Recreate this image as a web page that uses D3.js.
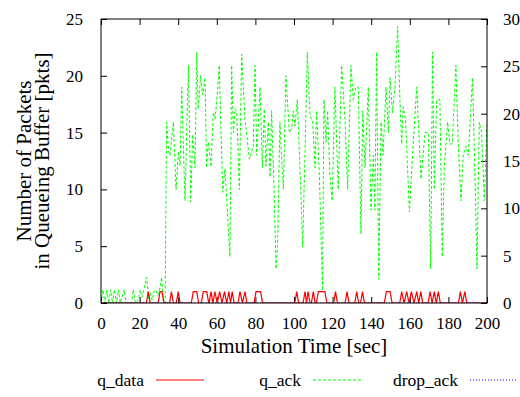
<!DOCTYPE html>
<html>
<head>
<meta charset="utf-8">
<script src="https://cdn.jsdelivr.net/npm/d3@7"></script>
<style>
    body { margin: 0; background: #fff; }
    text { font-family: "Liberation Serif", "Times New Roman", serif; fill: #000; }
</style>
</head>
<body>
<svg id="svg"></svg>
<script>
//data
let xTicks = [0, 20, 40, 60, 80, 100, 120, 140, 160, 180, 200]
let yTicks = [0, 5, 10, 15, 20, 25]
let y2Ticks = [0, 5, 10, 15, 20, 25, 30]

//q_data (left axis)
let qDataTime = [0, 23.5, 24.5, 25.5, 29.6, 30.6, 31.6, 32.6, 35.5, 36.5, 37.5, 39, 40, 41,
    46.8, 47.8, 49.6, 50.6, 52, 53, 54.8, 55.8, 56, 57, 58, 59, 60.2, 61.5, 62.7, 64, 65.1,
    66.3, 67.1, 68, 69, 71, 72, 73.3, 74.6, 75.6, 79.3, 80.3, 82.7, 83.7, 100.4, 101.4, 102.4,
    104.7, 105.7, 106.5, 107.3, 108.3, 109, 110, 111, 111.6, 112.6, 116, 117, 120.5, 121.5, 122.5,
    126.5, 127.5, 128.5, 131.5, 132.5, 133.5, 134.5, 135.5, 136.5, 146.8, 147.8, 149.8, 150.8,
    154.8, 155.8, 157, 158.4, 159.6, 160.8, 162.2, 163.6, 164.6, 165.7, 166.7, 169.5, 170.5,
    171.6, 172.7, 173.7, 174.8, 175.8, 185.2, 186.2, 187.3, 188.5, 189.5, 200]
let qDataVal = [0, 0, 1, 0, 0, 1, 1, 0, 0, 1, 0, 0, 1, 0,
    0, 1, 1, 0, 0, 1, 1, 0, 0, 1, 0, 1, 0, 1, 0, 1, 0,
    1, 0, 1, 0, 0, 1, 0, 1, 0, 0, 1, 1, 0, 0, 1, 0,
    0, 1, 0, 1, 0, 0, 1, 0, 0, 1, 1, 0, 0, 1, 0,
    0, 1, 0, 0, 1, 0, 0, 1, 0, 0, 1, 1, 0,
    0, 1, 0, 1, 0, 1, 0, 1, 0, 1, 0, 0, 1,
    0, 1, 0, 1, 0, 0, 1, 0, 1, 0, 0]

//q_ack (right axis)
let qAckTime = [0, 1, 2, 3, 4, 5, 6, 7, 8, 9, 10, 12, 13, 15.8, 16.8, 17.8, 19.5, 20.3, 21.2, 22,
    23.7, 24.7, 25.5, 26.5, 27.5, 28.5, 29.5, 30.5, 31.4, 32.4, 33.2, 34, 35, 35.8, 36.7, 37.5,
    38.9, 40.1, 41, 41.8, 43.5, 45.3, 46.5, 47.5, 48.7, 49.6, 50.4, 51.6, 52.7, 53.9, 54.7, 55.6,
    57, 58.2, 59.1, 60, 61.3, 62, 63.1, 64.2, 65.5, 66.8, 67.7, 68.6, 69.5, 70.3, 71.7, 72.9,
    74.6, 76.9, 78.9, 79.8, 80.7, 82.4, 83.6, 84.6, 85.5, 86.7, 87.6, 88.4, 89.6, 90.7, 91.5,
    92.7, 93.6, 94.5, 95.8, 97.6, 98.8, 99.6, 100.5, 101.7, 103.1, 104.5, 105.7, 106.9, 108.3,
    109.7, 110.9, 111.7, 113.1, 114.8, 115.5, 116.6, 117.4, 118.6, 119.8, 121.2, 122.9, 124.7,
    126.4, 127.8, 129.5, 130.7, 132.1, 133.3, 134.7, 135.6, 136.8, 138.5, 139.9, 141.1, 141.9,
    142.8, 143.9, 145.1, 146.1, 147.7, 148.9, 149.8, 151, 152.3, 153.7, 154.9, 155.8, 156.6,
    157.8, 159.8, 161.8, 163.6, 165.8, 167.9, 169.6, 170.8, 171.8, 172.7, 173.9, 175.6, 176.8,
    177.9, 179.6, 180.8, 182, 183.9, 185.1, 186.5, 187.7, 189.1, 190.3, 192.5, 193.8, 194.8,
    196, 197.2, 198.6, 200]
let qAckVal = [0, 1.4, 0, 1.4, 0, 1.4, 0, 1.4, 0, 1.4, 0, 1.4, 0, 0, 1.4, 0, 0.4, 1.4, 0.6, 1.3,
    2.7, 0.4, 1.1, 0.3, 1.2, 1.4, 0.8, 1.5, 2.7, 0, 0, 19.1, 16.0, 15.6, 17.5, 19.1,
    12.0, 16.0, 14.5, 22.8, 10.8, 25.1, 10.7, 17.8, 14.3, 26.5, 20.5, 24.0, 22.0, 23.8, 14.3, 17.0,
    14.4, 20.1, 19.4, 21.5, 25.1, 19.4, 11.7, 14.2, 9.6, 4.9, 25.1, 18.0, 20.5, 20.3, 12.0, 26.3,
    19.4, 15.2, 16.5, 25.1, 15.6, 22.8, 14.3, 20.5, 14.5, 19.1, 13.3, 20.3, 12.4, 3.6, 6.1,
    19.1, 15.2, 12.0, 24.0, 18.0, 18.4, 20.3, 18.7, 21.5, 14.2, 5.9, 15.9, 26.5, 19.8,
    19.1, 14.3, 20.3, 13.8, 1.3, 21.5, 17.0, 20.3, 13.5, 10.8, 22.8, 12.0, 25.1,
    19.4, 12.0, 25.1, 21.5, 22.8, 22.8, 7.3, 20.3, 14.3, 22.8, 9.8, 15.6, 9.8,
    26.5, 2.5, 19.1, 15.6, 22.8, 18.0, 23.8, 20.1, 22.8, 29.2, 21.4, 16.8, 20.7,
    19.3, 9.6, 17.0, 22.8, 13.1, 18.0, 18.0, 3.6, 26.5, 12.0, 21.4, 21.5, 4.9,
    14.5, 19.1, 16.8, 16.8, 25.1, 16.8, 10.8, 15.6, 16.6, 15.6, 23.8, 13.1, 3.6,
    19.1, 18.0, 10.8, 19.1]

//drop_ack (left axis)
let dropAckTime = [0, 200]
let dropAckVal = [0, 0]

let legendNames = ['q_data', 'q_ack', 'drop_ack']

/*---------------------------------------------------------------------*/
let svg = d3.select('#svg').attr('width', 520).attr('height', 397)
let plotLeft = 101, plotRight = 487, plotTop = 19, plotBottom = 303

let x = d3.scaleLinear().domain([0, 200]).range([plotLeft, plotRight])
let y = d3.scaleLinear().domain([0, 25]).range([plotBottom, plotTop])
let y2 = d3.scaleLinear().domain([0, 30]).range([plotBottom, plotTop])

//clip for the lines
svg.append('clipPath').attr('id', 'plotClip')
    .append('rect')
    .attr('x', plotLeft).attr('y', plotTop)
    .attr('width', plotRight - plotLeft).attr('height', plotBottom - plotTop)

//axes: gnuplot style, ticks pointing inwards, mirrored on top
let xAxis = svg.append('g')
    .attr('transform', `translate(0,${plotBottom})`)
    .call(d3.axisBottom(x).tickValues(xTicks).tickSizeInner(-6).tickSizeOuter(0).tickPadding(14))
let xTop = svg.append('g')
    .attr('transform', `translate(0,${plotTop})`)
    .call(d3.axisTop(x).tickValues(xTicks).tickSizeInner(-6).tickSizeOuter(0).tickFormat(''))
let yAxis = svg.append('g')
    .attr('transform', `translate(${plotLeft},0)`)
    .call(d3.axisLeft(y).tickValues(yTicks).tickSizeInner(-6).tickSizeOuter(0).tickPadding(18))
let y2Axis = svg.append('g')
    .attr('transform', `translate(${plotRight},0)`)
    .call(d3.axisRight(y2).tickValues(y2Ticks).tickSizeInner(-6).tickSizeOuter(0).tickPadding(16))

svg.selectAll('.domain').remove()
svg.selectAll('.tick line').attr('stroke', '#000')
svg.selectAll('.tick text')
    .style('font-family', '"Liberation Serif", serif')
    .style('font-size', '17px')
    .attr('fill', '#000')

//series lines
let makeLine = (ts, vs, scale) => d3.line()
    .x((d, i) => x(ts[i]))
    .y(d => scale(d))(vs)

let plot = svg.append('g').attr('clip-path', 'url(#plotClip)')

plot.append('path')
    .attr('d', makeLine(qAckTime, qAckVal, y2))
    .attr('fill', 'none')
    .attr('stroke', '#00ff00')
    .attr('stroke-width', 1)
    .attr('stroke-dasharray', '3,2')

plot.append('path')
    .attr('d', makeLine(qDataTime, qDataVal, y))
    .attr('fill', 'none')
    .attr('stroke', '#ff0000')
    .attr('stroke-width', 1.2)

plot.append('path')
    .attr('d', makeLine(dropAckTime, dropAckVal, y))
    .attr('fill', 'none')
    .attr('stroke', '#0000ff')
    .attr('stroke-width', 1.2)
    .attr('stroke-dasharray', '1,2')

//border
svg.append('rect')
    .attr('x', plotLeft).attr('y', plotTop)
    .attr('width', plotRight - plotLeft).attr('height', plotBottom - plotTop)
    .attr('fill', 'none')
    .attr('stroke', '#000')
    .attr('stroke-width', 1)

//axis captions
svg.append('text')
    .attr('x', (plotLeft + plotRight) / 2)
    .attr('y', 353)
    .attr('text-anchor', 'middle')
    .style('font-size', '21px')
    .text('Simulation Time [sec]')

let yTitle = svg.append('g')
    .attr('transform', `translate(0,${(plotTop + plotBottom) / 2}) rotate(-90)`)
yTitle.append('text')
    .attr('x', 0).attr('y', 31)
    .attr('text-anchor', 'middle')
    .style('font-size', '21px')
    .text('Number of Packets')
yTitle.append('text')
    .attr('x', 0).attr('y', 49)
    .attr('text-anchor', 'middle')
    .style('font-size', '21px')
    .text('in Queueing Buffer [pkts]')

//legend
let legendText = [144, 301, 458]
let legendStyle = [
    { color: '#ff0000', dash: null },
    { color: '#00ff00', dash: '3,2' },
    { color: '#0000ff', dash: '1,2' }
]
legendNames.forEach((name, i) => {
    svg.append('text')
        .attr('x', legendText[i])
        .attr('y', 386)
        .attr('text-anchor', 'end')
        .style('font-size', '17.5px')
        .text(name)
    svg.append('line')
        .attr('x1', legendText[i] + 12).attr('x2', legendText[i] + 60)
        .attr('y1', 380).attr('y2', 380)
        .attr('stroke', legendStyle[i].color)
        .attr('stroke-width', 1.2)
        .attr('stroke-dasharray', legendStyle[i].dash)
})
</script>
</body>
</html>
